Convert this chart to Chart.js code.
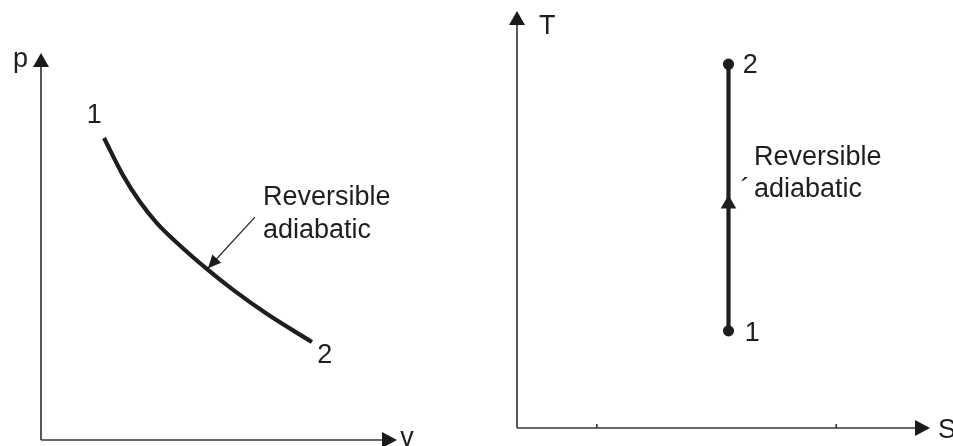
<!DOCTYPE html>
<html>
<head>
<meta charset="utf-8">
<title>p-v and T-S diagrams</title>
<script src="https://cdn.jsdelivr.net/npm/chart.js@4"></script>
<style>
  html, body { margin:0; padding:0; background:#fff; }
  #wrap { position:relative; width:953px; height:446px; overflow:hidden; }
  canvas { position:absolute; top:0; }
  #pv { left:0; }
  #ts { left:480px; }
</style>
</head>
<body>
<div id="wrap">
  <canvas id="pv" width="470" height="446"></canvas>
  <canvas id="ts" width="473" height="446"></canvas>
</div>
<script>
// p-v diagram: reversible adiabatic curve 1 -> 2
var pvV = [1.8, 2.34, 2.83, 3.31, 3.89, 4.77, 5.49, 6.46, 7.74];
var pvP = [8.63, 7.57, 6.8, 6.2, 5.63, 4.86, 4.29, 3.6, 2.8];
var pointerV = [6.11, 4.77];
var pointerP = [6.37, 4.91];
var pvText = ['p', 'v', '1', '2', 'Reversible', 'adiabatic'];
var pvTextV = [-0.8, 10.26, 1.31, 7.89, 6.34, 6.34];
var pvTextP = [10.66, -0.17, 9.06, 2.2, 6.71, 5.77];

// T-S diagram: vertical line 1 -> 2
var tsS = [5.3, 5.3];
var tsT = [2.43, 9.1];
var flowS = [5.3];
var flowT = [5.6];
var sTicks = [2, 8];
var tsText = ['T', 'S', '2', '1', 'Reversible', '\u00b4', 'adiabatic'];
var tsTextS = [0.55, 10.55, 5.66, 5.71, 5.94, 5.61, 5.94];
var tsTextT = [9.85, -0.25, 8.88, 2.18, 6.58, 5.78, 5.78];

var ink = '#1e1e1e';
var font = '27px "Liberation Sans", Arial, sans-serif';

function pts(xs, ys) {
    return xs.map(function(x, i) { return {x: x, y: ys[i]}; });
}

function head(ctx, x, y, ang, len, half) {
    ctx.save();
    ctx.translate(x, y);
    ctx.rotate(ang);
    ctx.beginPath();
    ctx.moveTo(0, 0);
    ctx.lineTo(-len, -half);
    ctx.lineTo(-len, half);
    ctx.closePath();
    ctx.fill();
    ctx.restore();
}

// draws the arrowed axes, tick marks, text and the pointer head
var sketch = {
    id: 'sketch',
    afterDatasetsDraw: function(chart, args, opts) {
        var ctx = chart.ctx, a = chart.chartArea;
        var xs = chart.scales.x, ys = chart.scales.y;
        var ox = xs.getPixelForValue(0), oy = ys.getPixelForValue(0);
        ctx.save();
        ctx.strokeStyle = '#3a3a3a';
        ctx.fillStyle = '#1a1a1a';
        ctx.lineWidth = 1.7;
        ctx.beginPath();
        ctx.moveTo(ox, oy); ctx.lineTo(a.right - 12, oy);
        ctx.moveTo(ox, oy); ctx.lineTo(ox, a.top + 12);
        ctx.stroke();
        head(ctx, a.right, oy, 0, 15, 8);
        head(ctx, ox, a.top, -Math.PI / 2, 14, 8);

        (opts.ticks || []).forEach(function(t) {
            var px = xs.getPixelForValue(t);
            ctx.beginPath(); ctx.moveTo(px, oy); ctx.lineTo(px, oy - 4); ctx.stroke();
        });

        if (opts.pointer) {
            var d = chart.data.datasets[opts.pointer].data;
            var p0 = d[d.length - 2], p1 = d[d.length - 1];
            var x0 = xs.getPixelForValue(p0.x), y0 = ys.getPixelForValue(p0.y);
            var x1 = xs.getPixelForValue(p1.x), y1 = ys.getPixelForValue(p1.y);
            head(ctx, x1, y1, Math.atan2(y1 - y0, x1 - x0), 13, 6);
        }

        ctx.fillStyle = ink;
        ctx.font = font;
        ctx.textAlign = 'left';
        ctx.textBaseline = 'alphabetic';
        opts.text.forEach(function(t, i) {
            ctx.fillText(t, xs.getPixelForValue(opts.tx[i]), ys.getPixelForValue(opts.ty[i]));
        });
        ctx.restore();
    }
};

function hiddenScales(xmax, ymax) {
    return {
        x: {type: 'linear', min: 0, max: xmax, display: false},
        y: {type: 'linear', min: 0, max: ymax, display: false}
    };
}

new Chart(document.getElementById('pv'), {
    type: 'scatter',
    data: {
        datasets: [
            {data: pts(pvV, pvP), showLine: true, cubicInterpolationMode: 'monotone', borderColor: ink, borderWidth: 4.2, pointRadius: 0, borderCapStyle: 'butt'},
            {data: pts(pointerV, pointerP), showLine: true, borderColor: '#2a2a2a', borderWidth: 1.3, pointRadius: 0}
        ]
    },
    options: {
        responsive: false,
        animation: false,
        devicePixelRatio: 1,
        layout: {padding: {left: 41, right: 73, top: 53, bottom: 6}},
        scales: hiddenScales(10.17, 11.06),
        plugins: {
            legend: {display: false},
            tooltip: {enabled: false},
            sketch: {text: pvText, tx: pvTextV, ty: pvTextP, pointer: 1}
        }
    },
    plugins: [sketch]
});

new Chart(document.getElementById('ts'), {
    type: 'scatter',
    data: {
        datasets: [
            {data: pts(tsS, tsT), showLine: true, borderColor: ink, borderWidth: 4.2, pointRadius: 3.5, pointBackgroundColor: ink, pointBorderColor: ink},
            {data: pts(flowS, flowT), pointStyle: 'triangle', pointRadius: 9, pointBackgroundColor: ink, pointBorderColor: ink, pointBorderWidth: 0}
        ]
    },
    options: {
        responsive: false,
        animation: false,
        devicePixelRatio: 1,
        layout: {padding: {left: 37, right: 23, top: 11, bottom: 18}},
        scales: hiddenScales(10.35, 10.43),
        plugins: {
            legend: {display: false},
            tooltip: {enabled: false},
            sketch: {text: tsText, tx: tsTextS, ty: tsTextT, ticks: sTicks}
        }
    },
    plugins: [sketch]
});
</script>
</body>
</html>
